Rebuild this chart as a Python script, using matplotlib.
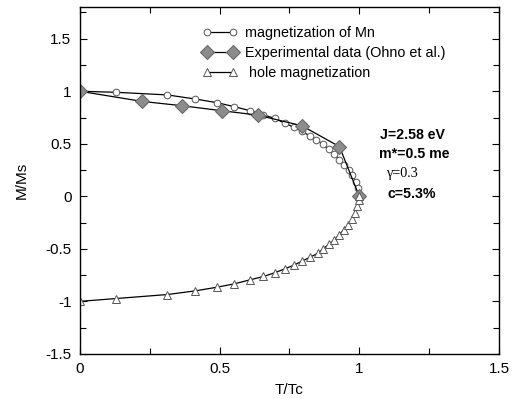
import matplotlib
matplotlib.use("Agg")
import matplotlib.pyplot as plt
from matplotlib.ticker import MultipleLocator

plt.rcParams['font.family'] = ['Liberation Sans', 'DejaVu Sans']

# magnetization of Mn (open circles)
mn_t = [0.0, 0.129, 0.313, 0.413, 0.491, 0.553, 0.609, 0.657, 0.697, 0.734,
        0.767, 0.796, 0.822, 0.846, 0.869, 0.890, 0.910, 0.929, 0.946, 0.962,
        0.975, 0.987, 0.995, 1.0]
mn_m = [1.0, 0.99, 0.965, 0.926, 0.891, 0.853, 0.815, 0.776, 0.741, 0.696,
        0.655, 0.617, 0.576, 0.538, 0.497, 0.447, 0.40, 0.35, 0.30, 0.25,
        0.20, 0.14, 0.08, 0.02]

# experimental data (Ohno et al.)
exp_t = [0.0, 0.221, 0.366, 0.507, 0.636, 0.795, 0.929, 1.0]
exp_m = [1.0, 0.904, 0.862, 0.815, 0.773, 0.671, 0.473, 0.0]

# hole magnetization (open triangles)
hole_t = [0.0, 0.129, 0.313, 0.413, 0.491, 0.553, 0.609, 0.657, 0.697, 0.734,
          0.767, 0.796, 0.825, 0.851, 0.871, 0.892, 0.911, 0.927, 0.945, 0.961,
          0.974, 0.985, 0.993, 0.998, 1.0]
hole_m = [-1.0, -0.973, -0.935, -0.90, -0.865, -0.833, -0.795, -0.763, -0.728, -0.69,
          -0.654, -0.616, -0.578, -0.543, -0.50, -0.456, -0.415, -0.367, -0.319, -0.271,
          -0.217, -0.159, -0.096, -0.032, 0.0]

fig = plt.figure(figsize=(5.15, 3.99), dpi=100)
ax = fig.add_axes([0.155, 0.113, 0.814, 0.869])

ax.plot(mn_t, mn_m, color='black', lw=0.9, marker='o', ms=4.8,
        mfc='white', mec='#555555', mew=0.7, label='magnetization of Mn')
ax.plot(exp_t, exp_m, color='black', lw=0.9, marker='D', ms=7.6,
        mfc='#8c8c8c', mec='#6a6a6a', mew=0.8, label='Experimental data (Ohno et al.)')
ax.plot(hole_t, hole_m, color='black', lw=0.9, marker='^', ms=5.3,
        mfc='white', mec='#555555', mew=0.7, label=' hole magnetization')

ax.set_xlim(0, 1.5)
ax.set_ylim(-1.5, 1.8)
ax.xaxis.set_major_locator(MultipleLocator(0.5))
ax.xaxis.set_minor_locator(MultipleLocator(0.25))
ax.yaxis.set_major_locator(MultipleLocator(0.5))
ax.yaxis.set_minor_locator(MultipleLocator(0.25))
ax.xaxis.set_major_formatter(plt.FuncFormatter(lambda v, p: f"{v:g}"))
ax.yaxis.set_major_formatter(plt.FuncFormatter(lambda v, p: f"{v:g}"))
ax.tick_params(which='both', direction='in', top=True, right=True, width=0.8,
               labelsize=11, pad=6)
ax.tick_params(which='major', length=5)
ax.tick_params(which='minor', length=4)
for s in ax.spines.values():
    s.set_linewidth(1.0)

ax.set_xlabel('T/Tc', fontsize=11, labelpad=5)
ax.set_ylabel('M/Ms', fontsize=11, labelpad=12)

ax.legend(loc='upper left', bbox_to_anchor=(0.293, 0.947), frameon=False,
          fontsize=10.4, numpoints=2, handlelength=2.4, handletextpad=0.5,
          labelspacing=0.42, borderpad=0, borderaxespad=0)

ax.text(1.075, 0.58, 'J=2.58 eV', fontsize=10.2, fontweight='bold', va='center')
ax.text(1.072, 0.40, 'm*=0.5 me', fontsize=10.2, fontweight='bold', va='center')
ax.text(1.095, 0.22, 'γ=0.3', fontsize=10.2, family='Liberation Serif', va='center')
ax.text(1.1, 0.02, 'c=5.3%', fontsize=10.2, fontweight='bold', va='center')

fig.savefig('out.png', dpi=100)
